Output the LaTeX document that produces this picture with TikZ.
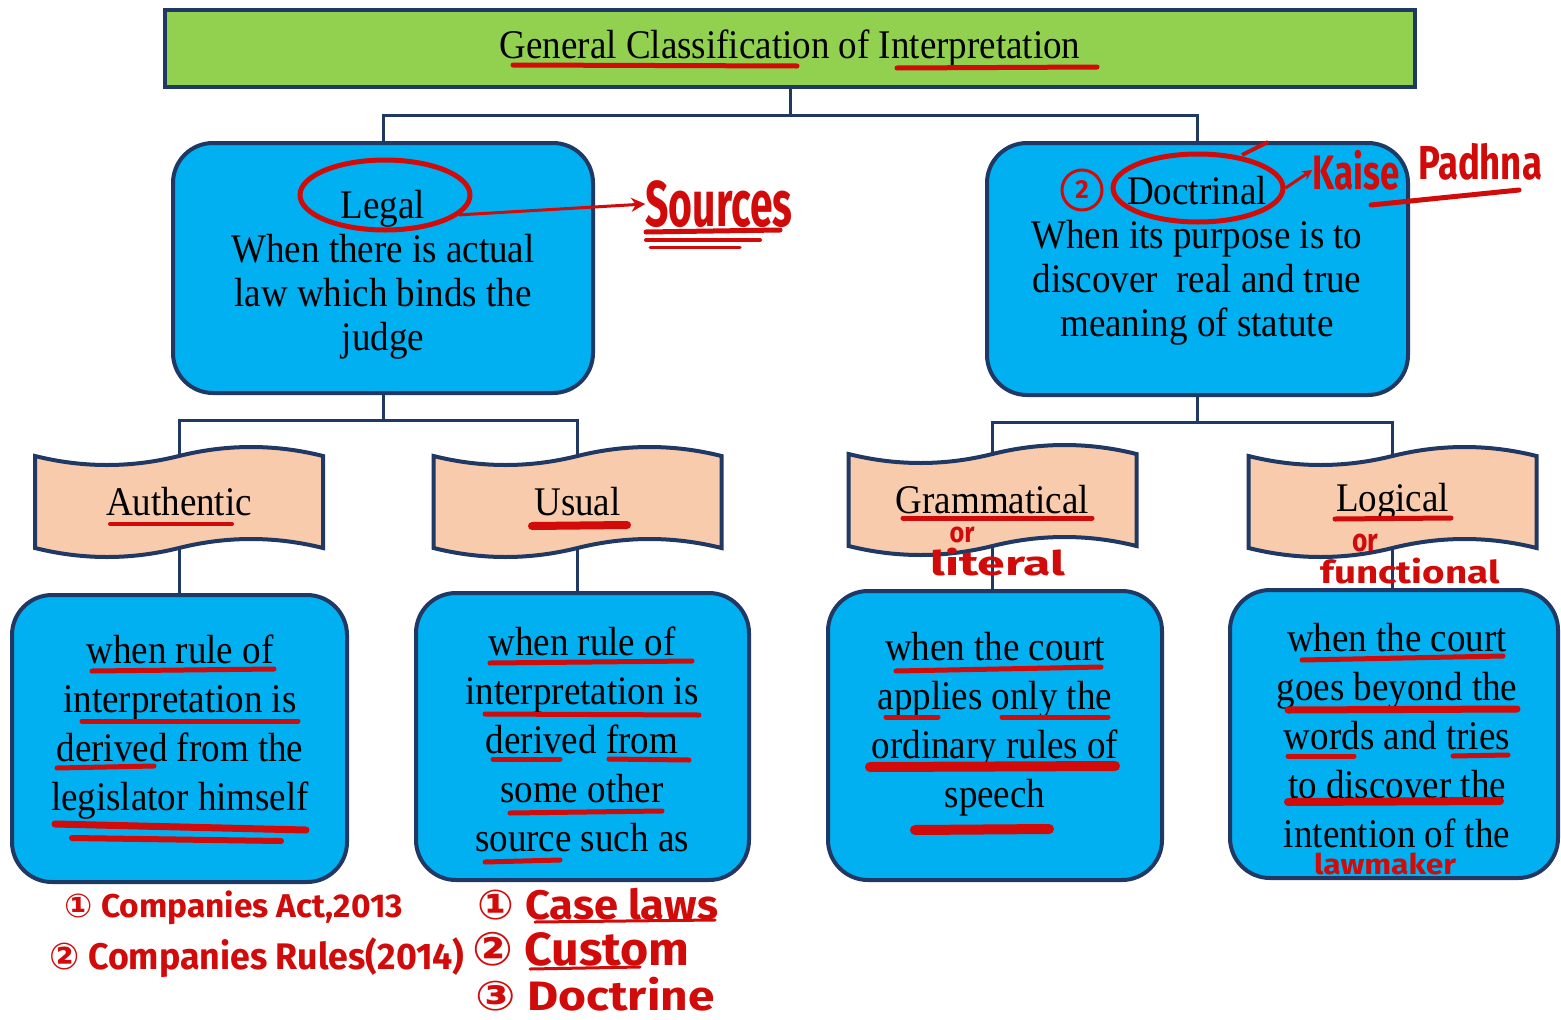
\documentclass[tikz,border=0pt]{standalone}
\usepackage{fontspec}
\setmainfont{Liberation Serif}
\newfontfamily\hand{Fira Sans}
\newfontfamily\symf{DejaVu Sans}
\usetikzlibrary{calc,arrows.meta,shapes.geometric}
\definecolor{navy}{HTML}{203864}
\definecolor{skyb}{HTML}{00B0F0}
\definecolor{peach}{HTML}{F8CBAD}
\definecolor{grn}{HTML}{92D050}
\definecolor{hred}{HTML}{D10A0A}
\pgfdeclarelayer{bg}\pgfsetlayers{bg,main}
\newcommand\tl[1]{\scalebox{1}[1.1]{\begin{tabular}{@{}c@{}}#1\end{tabular}}}
\newcommand\hwt[3]{\resizebox*{#1pt}{#2pt}{\hand\bfseries #3}}
\newcommand\wavebanner[1]{\begin{pgfonlayer}{bg}\begin{scope}[shift={(#1.center)}]
 \draw[bannerln] (-144,-46) .. controls (-96,-34) and (-48,-34) .. (0,-46) .. controls (48,-58) and (96,-58) .. (144,-46) -- (144,46) .. controls (96,34) and (48,34) .. (0,46) .. controls (-48,58) and (-96,58) .. (-144,46) -- cycle;
\end{scope}\end{pgfonlayer}}
\begin{document}
\begin{tikzpicture}[x=1pt,y=-1pt,
  box/.style={draw=navy, line width=4, fill=skyb, rounded corners=40, inner sep=0},
  conn/.style={draw=navy, line width=3},
  bannerln/.style={draw=navy, line width=4, fill=peach},
  ban/.style={inner sep=0, minimum width=288, minimum height=92, font=\fontsize{37}{40}\selectfont},
  txt/.style={inner sep=0, font=\fontsize{37}{40}\selectfont},
  txtb/.style={inner sep=0, font=\fontsize{37}{44.5}\selectfont},
  ul/.style={draw=hred, line width=5, line cap=round},
  hw/.style={inner sep=0, text=hred},
  rc/.style={draw=hred, line width=4}]
\useasboundingbox (0,0) rectangle (1561,1020);
\begin{pgfonlayer}{bg}
\fill[white] (0,0) rectangle (1561,1020);
\end{pgfonlayer}
% title
\node[draw=navy,line width=4,fill=grn,minimum width=1250,minimum height=77,inner sep=0] (title) at (790,48.5) {};
\node[txt] (titlet) at (790,50) {\tl{General Classification of Interpretation}};
% top boxes
\node[box, minimum width=420, minimum height=250] (legal) at (383,268) {};
\node[box, minimum width=421, minimum height=252] (doct) at (1197.5,269) {};
\node[txt] (legalt) at (383,276) {\tl{Legal\\When there is actual\\law which binds the\\judge}};
\node[txt] (doctt) at (1197,262) {\tl{Doctrinal\\When its purpose is to\\discover\ \ real and true\\meaning of statute}};
% banners
\node[ban] (auth) at (179,502) {\scalebox{1}[1.1]{Authentic}};
\node[ban] (usual) at (577.5,502) {\scalebox{1}[1.1]{Usual}};
\node[ban] (gram) at (992.5,500) {\scalebox{1}[1.1]{Grammatical}};
\node[ban] (logic) at (1392.5,502) {\scalebox{1}[1.1]{Logical}};
\wavebanner{auth}\wavebanner{usual}\wavebanner{gram}\wavebanner{logic}
% bottom boxes
\node[box, minimum width=335, minimum height=287] (b1) at (179.5,738.5) {};
\node[box, minimum width=333, minimum height=287] (b2) at (582.5,736.5) {};
\node[box, minimum width=334, minimum height=289] (b3) at (995,735.5) {};
\node[box, minimum width=328, minimum height=288] (b4) at (1394,734) {};
\node[txtb] (b1t) at (180,727) {\tl{when rule of\\interpretation is\\derived from the\\legislator himself}};
\node[txtb] (b2t) at (582,744) {\tl{when rule of\\interpretation is\\derived from\\some other\\source such as}};
\node[txtb] (b3t) at (995,724) {\tl{when the court\\applies only the\\ordinary rules of\\speech}};
\node[txtb] (b4t) at (1397,740) {\tl{when the court\\goes beyond the\\words and tries\\to discover the\\intention of the}};
% connectors
\draw[conn] (title.south) -- ++(0,26) coordinate (j0);
\draw[conn] (legal.north) |- (j0) -| (doct.north);
\draw[conn] (legal.south) -- ++(0,25) coordinate (j1);
\draw[conn] (auth.north) |- (j1) -| (usual.north);
\draw[conn] (doct.south) -- ++(0,25) coordinate (j2);
\draw[conn] (gram.north) |- (j2) -| (logic.north);
\draw[conn] (auth.south) -- (auth.south |- b1.north);
\draw[conn] (usual.south) -- (usual.south |- b2.north);
\draw[conn] (gram.south) -- (gram.south |- b3.north);
\draw[conn] (logic.south) -- (logic.south |- b4.north);
% red underlines
\draw[ul] (513,65) -- (797,66);
\draw[ul] (897,68) -- (1097,67);
\draw[ul,line width=4] (110,524) -- (232,524);
\draw[ul,line width=8] (532,526) -- (627,525);
\draw[ul] (903,518) -- (1092,518);
\draw[ul] (1335,519) -- (1451,518);
\draw[ul] (92,671) -- (274,669);
\draw[ul] (82,721) -- (298,721);
\draw[ul] (57,768) -- (154,766);
\draw[ul,line width=7] (55,824) -- (306,830);
\draw[ul,line width=6] (72,838) -- (281,841);
\draw[ul] (490,663) -- (692,661);
\draw[ul] (485,714) -- (699,715);
\draw[ul] (493,759) -- (560,759);
\draw[ul] (609,759) -- (689,760);
\draw[ul] (510,813) -- (662,811);
\draw[ul] (485,862) -- (560,860);
\draw[ul] (896,671) -- (1101,667);
\draw[ul] (886,717) -- (938,717);
\draw[ul] (1002,717) -- (1108,717);
\draw[ul,line width=10] (870,767) -- (1115,766);
\draw[ul,line width=10] (915,830) -- (1049,829);
\draw[ul] (1302,660) -- (1503,656);
\draw[ul,line width=7] (1288,710) -- (1517,709);
\draw[ul] (1288,756) -- (1354,756);
\draw[ul] (1453,756) -- (1508,755);
\draw[ul,line width=8] (1288,802) -- (1500,801);
% red annotations
\node[ellipse, draw=hred, line width=5, minimum width=170, minimum height=70, inner sep=0] (legalc) at (385,195) {};
\node[hw] (src) at (719,204) {\hwt{147}{47}{Sources}};
\draw[rc,line width=3,-{Stealth[length=14pt,width=14pt]}] (legalc.-15) -- (src.west);
\draw[ul] (646,232) -- (780,230);
\draw[ul,line width=4] (646,240) -- (760,240);
\draw[ul,line width=3] (650,247) -- (740,247);
\node[ellipse, draw=hred, line width=5, minimum width=170, minimum height=68, inner sep=0] (doctc) at (1198,188) {};
\draw[rc] (1242,155) -- (1268,142);
\node[circle, draw=hred, line width=3, minimum size=40, inner sep=0, text=hred, font=\hand\bfseries\fontsize{26}{26}\selectfont] (n2) at (1082,190) {2};
\node[hw] (kaise) at (1356,170) {\hwt{87}{40}{Kaise}};
\draw[rc,line width=3,-{Stealth[length=10pt,width=10pt]}] (doctc.east) -- (kaise.west);
\node[hw] (padhna) at (1480,162) {\hwt{124}{37}{Padhna}};
\draw[ul] (1371,205) -- (1519,190);
\node[hw] (or1) at (962,535) {\hwt{25}{16}{or}};
\node[hw] (lit) at (998,562) {\hwt{135}{28}{literal}};
\node[hw] (or2) at (1365,543) {\hwt{26}{18}{or}};
\node[hw] (func) at (1410,571) {\hwt{179}{26}{functional}};
\node[hw] (lawm) at (1385,864) {\hwt{142}{22}{lawmaker}};
\node[hw] (ca1) at (234,908) {\hwt{338}{34}{{\symf ①} Companies Act,2013}};
\node[hw] (ca2) at (257,958) {\hwt{415}{40}{{\symf ②} Companies Rules(2014)}};
\node[hw] (cl1) at (598,904) {\hwt{240}{32}{{\symf ①} Case laws}};
\node[hw] (cl2) at (581,949) {\hwt{217}{34}{{\symf ②} Custom}};
\node[hw] (cl3) at (595,994) {\hwt{239}{34}{{\symf ③} Doctrine}};
\draw[ul,line width=3] (535,922) -- (715,920);
\draw[ul,line width=3] (530,969) -- (640,967);
\end{tikzpicture}
\end{document}
